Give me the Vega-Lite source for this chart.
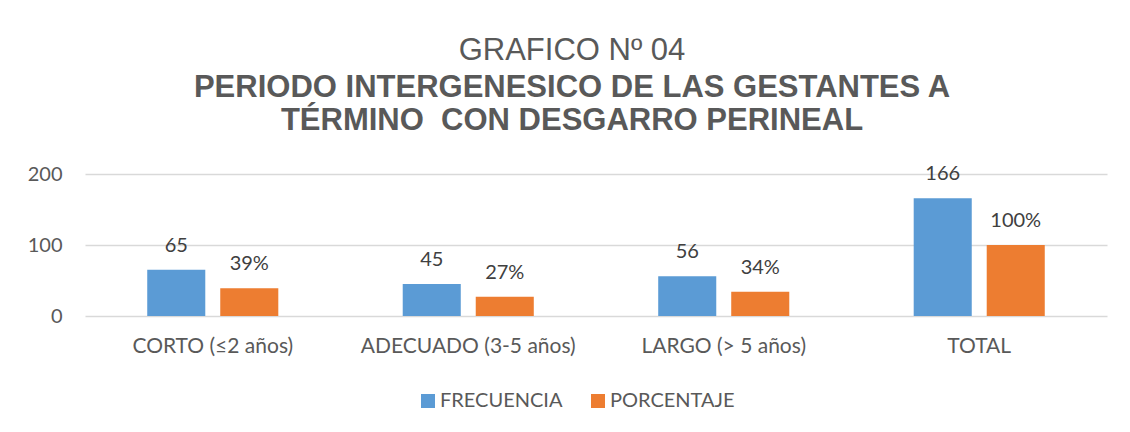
{
  "$schema": "https://vega.github.io/schema/vega-lite/v6.json",
  "autosize": {"type": "none"},
  "width": 1022,
  "height": 142,
  "padding": {"left": 85, "top": 174, "right": 23, "bottom": 116},
  "background": "white",
  "title": {
    "text": "GRAFICO Nº 04",
    "subtitle": ["PERIODO INTERGENESICO DE LAS GESTANTES A", "TÉRMINO\u00a0 CON DESGARRO PERINEAL"],
    "anchor": "middle",
    "frame": "group",
    "dx": -24,
    "font": "Liberation Sans",
    "fontSize": 31,
    "fontWeight": "normal",
    "color": "#595959",
    "subtitleFont": "Liberation Sans",
    "subtitleFontSize": 31,
    "subtitleFontWeight": "bold",
    "subtitleColor": "#595959",
    "subtitleLineHeight": 33,
    "subtitlePadding": 6,
    "offset": 27
  },
  "data": {
    "values": [
      {"categoria": "CORTO (≤2 años)", "serie": "FRECUENCIA", "valor": 65, "etiqueta": "65"},
      {"categoria": "CORTO (≤2 años)", "serie": "PORCENTAJE", "valor": 39, "etiqueta": "39%"},
      {"categoria": "ADECUADO (3-5 años)", "serie": "FRECUENCIA", "valor": 45, "etiqueta": "45"},
      {"categoria": "ADECUADO (3-5 años)", "serie": "PORCENTAJE", "valor": 27, "etiqueta": "27%"},
      {"categoria": "LARGO (> 5 años)", "serie": "FRECUENCIA", "valor": 56, "etiqueta": "56"},
      {"categoria": "LARGO (> 5 años)", "serie": "PORCENTAJE", "valor": 34, "etiqueta": "34%"},
      {"categoria": "TOTAL", "serie": "FRECUENCIA", "valor": 166, "etiqueta": "166"},
      {"categoria": "TOTAL", "serie": "PORCENTAJE", "valor": 100, "etiqueta": "100%"}
    ]
  },
  "encoding": {
    "x": {
      "field": "categoria",
      "type": "nominal",
      "sort": null,
      "scale": {"paddingInner": 0.487, "paddingOuter": 0.2436},
      "axis": {
        "title": null,
        "labelAngle": 0,
        "labelFont": "Lato",
        "labelFontSize": 21,
        "labelColor": "#595959",
        "labelPadding": 19,
        "labelLimit": 0,
        "ticks": false,
        "tickSize": 0,
        "domain": false,
        "grid": false
      }
    },
    "xOffset": {
      "field": "serie",
      "type": "nominal",
      "scale": {"paddingInner": 0.205, "paddingOuter": 0}
    },
    "y": {
      "field": "valor",
      "type": "quantitative",
      "scale": {"domain": [0, 200], "nice": false},
      "axis": {
        "title": null,
        "values": [0, 100, 200],
        "labelFont": "Lato",
        "labelFontSize": 20,
        "labelColor": "#595959",
        "labelPadding": 23,
        "ticks": false,
        "tickSize": 0,
        "domain": false,
        "grid": true,
        "gridColor": "#D9D9D9",
        "gridWidth": 1.5
      }
    }
  },
  "layer": [
    {
      "mark": {"type": "bar"},
      "encoding": {
        "color": {
          "field": "serie",
          "type": "nominal",
          "scale": {"domain": ["FRECUENCIA", "PORCENTAJE"], "range": ["#5B9BD5", "#ED7D31"]},
          "legend": {
            "title": null,
            "orient": "none",
            "direction": "horizontal",
            "legendX": 333,
            "legendY": 217,
            "symbolType": "square",
            "symbolSize": 196,
            "symbolStrokeWidth": 0,
            "labelFont": "Lato",
            "labelFontSize": 20,
            "labelColor": "#595959",
            "labelOffset": 2,
            "columnPadding": 25,
            "padding": 0
          }
        }
      }
    },
    {
      "mark": {"type": "text", "baseline": "alphabetic", "dy": -18, "font": "Lato", "fontSize": 20, "color": "#404040"},
      "encoding": {
        "text": {"field": "etiqueta", "type": "nominal"}
      }
    }
  ],
  "config": {
    "view": {"stroke": null}
  }
}
